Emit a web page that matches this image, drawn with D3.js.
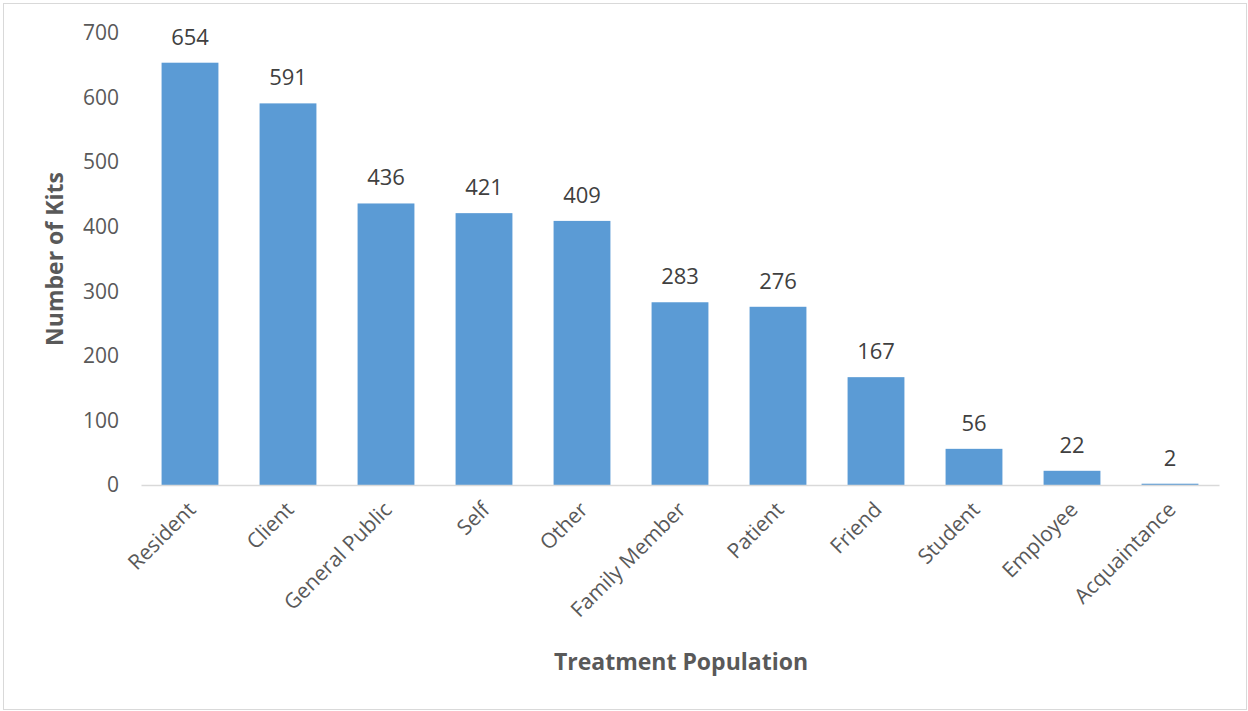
<!DOCTYPE html>
<html>
<head>
<meta charset="utf-8">
<script src="https://cdn.jsdelivr.net/npm/d3@7"></script>
<style>
  html, body { margin: 0; padding: 0; background: #fff; }
  svg { display: block; }
  text { font-family: "Open Sans", "Noto Sans", sans-serif; }
</style>
</head>
<body>
<svg id="chart" width="1248" height="711"></svg>
<script>
// Kits distributed by treatment population
const categories = ["Resident", "Client", "General Public", "Self", "Other",
  "Family Member", "Patient", "Friend", "Student", "Employee", "Acquaintance"];
const kits = [654, 591, 436, 421, 409, 283, 276, 167, 56, 22, 2];
const yTicks = [0, 100, 200, 300, 400, 500, 600, 700];

const svg = d3.select("#chart");
const W = 1248, H = 711;

// outer frame
svg.append("rect")
  .attr("x", 3.5).attr("y", 3.5)
  .attr("width", W - 5).attr("height", H - 5)
  .attr("fill", "#fff").attr("stroke", "#d9d9d9").attr("stroke-width", 1);

const plot = { left: 141, right: 1219, top: 33, bottom: 485 };

const x = d3.scaleBand()
  .domain(categories)
  .range([plot.left, plot.right])
  .paddingInner(0.42)
  .paddingOuter(0.21);

const y = d3.scaleLinear()
  .domain([0, 700])
  .range([plot.bottom, plot.top]);

// y tick labels (no axis line, no gridlines)
const yAxis = svg.append("g")
  .attr("transform", `translate(${plot.left - 22},0)`)
  .call(d3.axisLeft(y).tickValues(yTicks).tickSize(0).tickPadding(0));
yAxis.select(".domain").remove();
yAxis.selectAll("text")
  .attr("fill", "#595959")
  .style("font-size", "21px");

// bars
svg.append("g").selectAll("rect")
  .data(kits)
  .join("rect")
  .attr("x", (d, i) => x(categories[i]))
  .attr("y", d => y(d))
  .attr("width", x.bandwidth())
  .attr("height", d => y(0) - y(d))
  .attr("fill", "#5b9bd5");

// value labels
svg.append("g").selectAll("text")
  .data(kits)
  .join("text")
  .attr("x", (d, i) => x(categories[i]) + x.bandwidth() / 2)
  .attr("y", d => y(d) - 18)
  .attr("text-anchor", "middle")
  .attr("fill", "#404040")
  .style("font-size", "22px")
  .text(d => d);

// x axis baseline and rotated category labels
const xAxis = svg.append("g")
  .attr("transform", `translate(0,${plot.bottom})`)
  .call(d3.axisBottom(x).tickSize(0).tickPadding(0));
xAxis.select(".domain")
  .attr("stroke", "#d9d9d9")
  .attr("stroke-width", 1.5);
xAxis.selectAll(".tick text")
  .attr("fill", "#595959")
  .style("font-size", "21px")
  .attr("text-anchor", "end")
  .attr("dy", null)
  .attr("transform", "translate(7,26) rotate(-45)");

// axis titles
svg.append("text")
  .attr("transform", `translate(63,259) rotate(-90)`)
  .attr("text-anchor", "middle")
  .attr("fill", "#595959")
  .style("font-size", "23px")
  .style("font-weight", "bold")
  .text("Number of Kits");

svg.append("text")
  .attr("x", 681).attr("y", 670)
  .attr("text-anchor", "middle")
  .attr("fill", "#595959")
  .style("font-size", "23px")
  .style("font-weight", "bold")
  .text("Treatment Population");
</script>
</body>
</html>
